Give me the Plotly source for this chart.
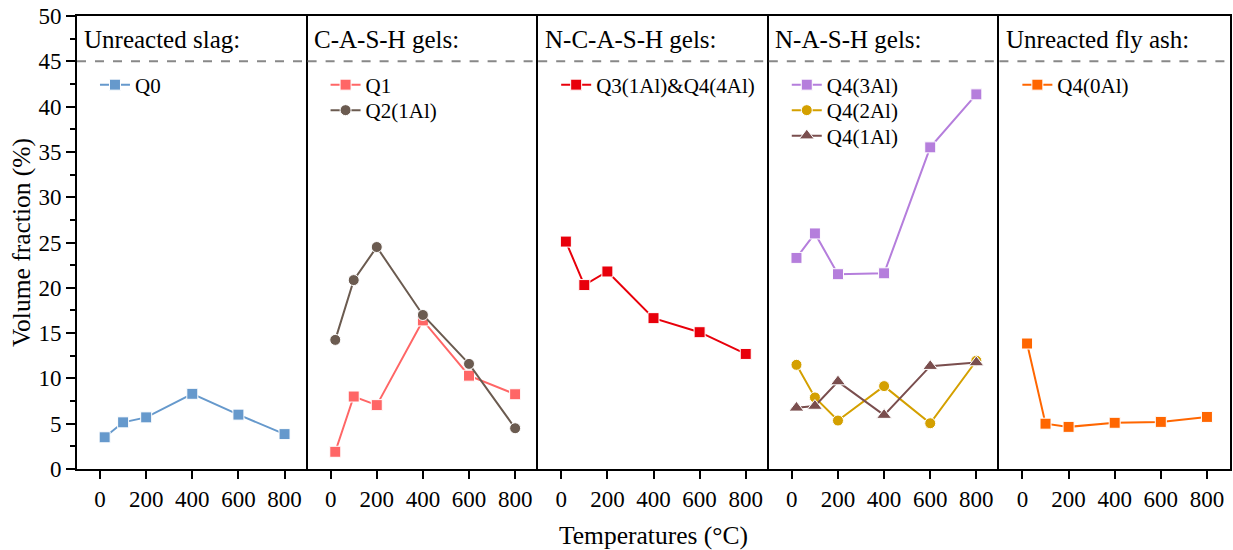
import plotly.graph_objects as go
from plotly.subplots import make_subplots

temps = [20, 100, 200, 400, 600, 800]

q0 = [3.5, 5.15, 5.7, 8.3, 6.0, 3.85]
q1 = [1.9, 8.0, 7.05, 16.4, 10.3, 8.25]
q2_1al = [14.25, 20.85, 24.5, 17.0, 11.6, 4.5]
q3_q4 = [25.1, 20.3, 21.8, 16.65, 15.1, 12.7]
q4_3al = [23.3, 26.0, 21.5, 21.6, 35.5, 41.35]
q4_2al = [11.5, 7.9, 5.35, 9.15, 5.05, 11.95]
q4_1al = [6.75, 6.95, 9.65, 5.95, 11.35, 11.75]
q4_0al = [13.85, 5.0, 4.65, 5.1, 5.2, 5.75]

panel_titles = ["Unreacted slag:", "C-A-S-H gels:", "N-C-A-S-H gels:", "N-A-S-H gels:", "Unreacted fly ash:"]

series = [
    (1, "Q0", q0, "#6699CC", "square"),
    (2, "Q1", q1, "#FF6666", "square"),
    (2, "Q2(1Al)", q2_1al, "#6B5B50", "circle"),
    (3, "Q3(1Al)&Q4(4Al)", q3_q4, "#E8000B", "square"),
    (4, "Q4(3Al)", q4_3al, "#B57EDC", "square"),
    (4, "Q4(2Al)", q4_2al, "#D4A000", "circle"),
    (4, "Q4(1Al)", q4_1al, "#7A4E4E", "triangle-up"),
    (5, "Q4(0Al)", q4_0al, "#FF6600", "square"),
]

FONT = "Liberation Serif"

L, R, T, B = 77, 1, 16, 81
W, H = 1233, 550
pw = W - L - R
ph = H - T - B
panel_w = pw / 5

fig = make_subplots(rows=1, cols=5, shared_yaxes=True, horizontal_spacing=0)

legends = {}
slot_in_panel = {}
for k, (panel, name, vals, color, sym) in enumerate(series):
    key = "legend" if k == 0 else f"legend{k+1}"
    slot = slot_in_panel.get(panel, 0)
    slot_in_panel[panel] = slot + 1
    center_px = 85 + slot * 25.5
    legends[key] = dict(
        x=((panel - 1) * panel_w + 18) / pw, y=1 - (center_px - T) / ph,
        xanchor="left", yanchor="middle",
        bgcolor="rgba(0,0,0,0)", font=dict(family=FONT, size=21, color="black"),
        tracegroupgap=0, itemwidth=30,
    )
    fig.add_trace(go.Scatter(
        x=temps, y=vals, name=name, mode="lines+markers",
        line=dict(color=color, width=2),
        marker=dict(symbol=sym, size=11 if sym != "triangle-up" else 13, color=color,
                    line=dict(color="white", width=1)),
        legend=key,
    ), row=1, col=panel)

fig.update_layout(
    width=W, height=H,
    margin=dict(l=L, r=R, t=T, b=B),
    paper_bgcolor="white", plot_bgcolor="white",
    font=dict(family=FONT, color="black", size=20),
    showlegend=True,
    **legends,
)

for i in range(1, 6):
    fig.update_xaxes(
        range=[-100, 900], tickvals=[0, 200, 400, 600, 800],
        ticks="outside", ticklen=8, tickwidth=2, tickcolor="black",
        showline=True, linecolor="black", linewidth=2, mirror=True,
        showgrid=False, zeroline=False,
        tickfont=dict(family=FONT, size=23, color="black"),
        row=1, col=i,
    )
    fig.update_yaxes(
        range=[0, 50], dtick=5,
        showline=True, linecolor="black", linewidth=2, mirror=(i == 5),
        showgrid=False, zeroline=False,
        row=1, col=i,
    )
    fig.add_hline(y=45, line=dict(color="#888888", width=2, dash="dash"), row=1, col=i)
    fig.add_annotation(
        text=panel_titles[i - 1], xref=f"x{'' if i == 1 else i} domain", yref="y",
        x=0.02, y=47.4, xanchor="left", yanchor="middle", showarrow=False,
        font=dict(family=FONT, size=25, color="black"),
    )

fig.update_yaxes(
    ticks="outside", ticklen=9, tickwidth=2, tickcolor="black",
    minor=dict(ticks="outside", ticklen=5, tickwidth=2, tickcolor="black", dtick=2.5),
    tickfont=dict(family=FONT, size=23, color="black"),
    title=dict(text="Volume fraction (%)", font=dict(family=FONT, size=25.5, color="black"), standoff=0),
    row=1, col=1,
)

fig.add_annotation(
    text="Temperatures (°C)", xref="paper", yref="paper", x=0.5, y=-(535 - 469) / ph,
    xanchor="center", yanchor="middle", showarrow=False,
    font=dict(family=FONT, size=25.5, color="black"),
)

fig.write_html("out.html")
